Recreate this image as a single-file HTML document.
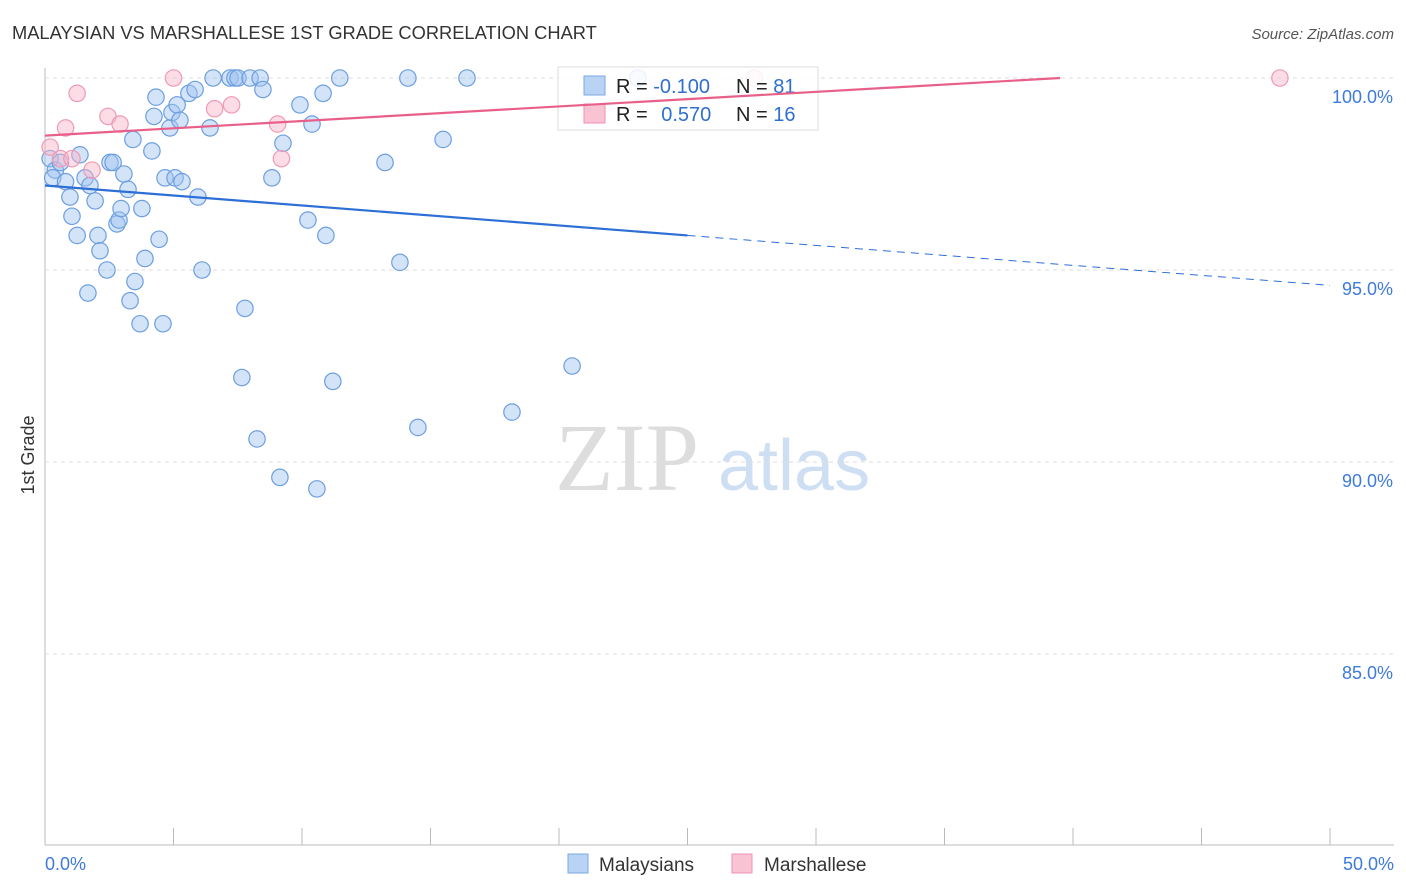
<!DOCTYPE html>
<html><head><meta charset="utf-8"><style>
body{margin:0;background:#fff;font-family:"Liberation Sans",sans-serif;}
#wrap{position:relative;width:1406px;height:892px;overflow:hidden}
</style></head><body>
<div id="wrap">
<svg id="svg" width="1406" height="892" xmlns="http://www.w3.org/2000/svg">
<text x="12" y="39" font-size="18.3" fill="#333">MALAYSIAN VS MARSHALLESE 1ST GRADE CORRELATION CHART</text>
<text x="1394" y="39" font-size="15" fill="#555" font-style="italic" text-anchor="end">Source: ZipAtlas.com</text>
<text x="34" y="455" font-size="18" fill="#333" transform="rotate(-90 34 455)" text-anchor="middle">1st Grade</text>
<text x="555" y="490" font-size="96" fill="#ddd" font-family="Liberation Serif">ZIP</text>
<text x="718" y="490" font-size="72" fill="#cfdff3">atlas</text>
<g id="grid"></g><g id="pts"></g>
<g>
<rect x="558" y="67" width="260" height="63" fill="#fff" fill-opacity="0.85" stroke="#ddd"/>
<rect x="584" y="76" width="21" height="19" fill="#b9d3f5" stroke="#7aa7e4"/>
<rect x="584" y="104" width="21" height="19" fill="#f9c3d3" stroke="#ef93b0"/>
<text x="616" y="93" font-size="20" fill="#222">R = <tspan fill="#2f6fd0">-0.100</tspan></text>
<text x="736" y="93" font-size="20" fill="#222">N = <tspan fill="#2f6fd0">81</tspan></text>
<text x="616" y="121" font-size="20" fill="#222">R = <tspan fill="#2f6fd0" dx="8">0.570</tspan></text>
<text x="736" y="121" font-size="20" fill="#222">N = <tspan fill="#2f6fd0">16</tspan></text>
</g>
<g id="lines"></g>
<g>
<rect x="568" y="854" width="20" height="19" fill="#b9d3f5" stroke="#7aa7e4"/>
<text x="599" y="871" font-size="19" fill="#333">Malaysians</text>
<rect x="732" y="854" width="20" height="19" fill="#f9c3d3" stroke="#ef93b0"/>
<text x="764" y="871" font-size="19" fill="#333">Marshallese</text>
</g>
<text x="45" y="870" font-size="18" fill="#3d7bd9">0.0%</text>
<text x="1394" y="870" font-size="18" fill="#3d7bd9" text-anchor="end">50.0%</text>
</svg>
</div>
<script>
const yTicks=[100,95,90,85];
const yTickLabels=["100.0%","95.0%","90.0%","85.0%"];
const blueX=[0.2,0.4,0.6,0.3,0.8,0.97,1.05,1.25,1.36,1.56,1.67,1.75,1.95,2.06,2.14,2.41,2.53,2.65,2.8,2.88,2.96,3.07,3.23,3.31,3.42,3.5,3.7,3.77,3.89,4.16,4.24,4.32,4.44,4.59,4.67,4.86,4.94,5.06,5.14,5.25,5.33,5.6,5.84,5.95,6.11,6.42,6.54,7.2,7.39,7.51,7.66,7.78,7.98,8.25,8.37,8.48,8.83,9.14,9.26,9.92,10.23,10.39,10.58,10.82,10.93,11.2,11.47,13.23,13.81,14.12,14.51,15.49,16.42,18.17,20.51,23.07];
const blueY=[97.9,97.6,97.8,97.4,97.3,96.9,96.4,95.9,98.0,97.4,94.4,97.2,96.8,95.9,95.5,95.0,97.8,97.8,96.2,96.3,96.6,97.5,97.1,94.2,98.4,94.7,93.6,96.6,95.3,98.1,99.0,99.5,95.8,93.6,97.4,98.7,99.1,97.4,99.3,98.9,97.3,99.6,99.7,96.9,95.0,98.7,100,100,100,100,92.2,94.0,100,90.6,100,99.7,97.4,89.6,98.3,99.3,96.3,98.8,89.3,99.6,95.9,92.1,100,97.8,95.2,100,90.9,98.4,100,91.3,92.5,100];
const pinkX=[0.2,0.6,0.8,1.05,1.25,1.83,2.45,2.92,5.0,6.6,7.26,9.05,9.2,27.6,48.05];
const pinkY=[98.2,97.9,98.7,97.9,99.6,97.6,99.0,98.8,100,99.2,99.3,98.8,97.9,100,100];
const blueTrend=[[0,97.2],[25,95.9]], blueTrendExt=[[25,95.9],[50,94.6]];
const pinkTrend=[[0,98.5],[39.5,100]];
const X=v=>45+v/50*1285, Y=v=>78+(100-v)*38.4;
const NS="http://www.w3.org/2000/svg";
function mk(t,a,p){const e=document.createElementNS(NS,t);for(const k in a)e.setAttribute(k,a[k]);p.appendChild(e);return e;}
const grid=document.getElementById('grid');
mk('line',{x1:45,y1:68,x2:45,y2:845,stroke:'#bbb'},grid);
mk('line',{x1:45,y1:845,x2:1394,y2:845,stroke:'#bbb'},grid);
for(let i=0;i<=10;i++){const l=mk('line',{x1:X(i*5),x2:X(i*5),y1:828,y2:845,stroke:'#bbb'},grid);

}
yTicks.forEach((t,i)=>{const l=mk('line',{x1:45,x2:1394,y1:Y(t),y2:Y(t),stroke:'#ddd','stroke-dasharray':'4,4'},grid);


const tx=mk('text',{x:1393,y:Y(t)+25,'font-size':18,fill:'#3d7bd9','text-anchor':'end'},grid);tx.textContent=yTickLabels[i];

});
const pts=document.getElementById('pts');
blueX.forEach((x,i)=>{const c=mk('circle',{cx:X(x),cy:Y(blueY[i]),r:8.2,fill:'rgba(160,196,240,0.45)',stroke:'#6c9ee0','stroke-width':1.2},pts);

});
pinkX.forEach((x,i)=>{const c=mk('circle',{cx:X(x),cy:Y(pinkY[i]),r:8.2,fill:'rgba(248,180,200,0.45)',stroke:'#ef9ab4','stroke-width':1.2},pts);

});
const lines=document.getElementById('lines');
let l=mk('line',{x1:X(blueTrend[0][0]),y1:Y(blueTrend[0][1]),x2:X(blueTrend[1][0]),y2:Y(blueTrend[1][1]),stroke:'#2d6fd6','stroke-width':2.2},lines);


l=mk('line',{x1:X(blueTrendExt[0][0]),y1:Y(blueTrendExt[0][1]),x2:X(blueTrendExt[1][0]),y2:Y(blueTrendExt[1][1]),stroke:'#2d6fd6','stroke-width':1,'stroke-dasharray':'8,6'},lines);


l=mk('line',{x1:X(pinkTrend[0][0]),y1:Y(pinkTrend[0][1]),x2:X(pinkTrend[1][0]),y2:Y(pinkTrend[1][1]),stroke:'#e8608a','stroke-width':2.2},lines);


</script>
</body></html>
